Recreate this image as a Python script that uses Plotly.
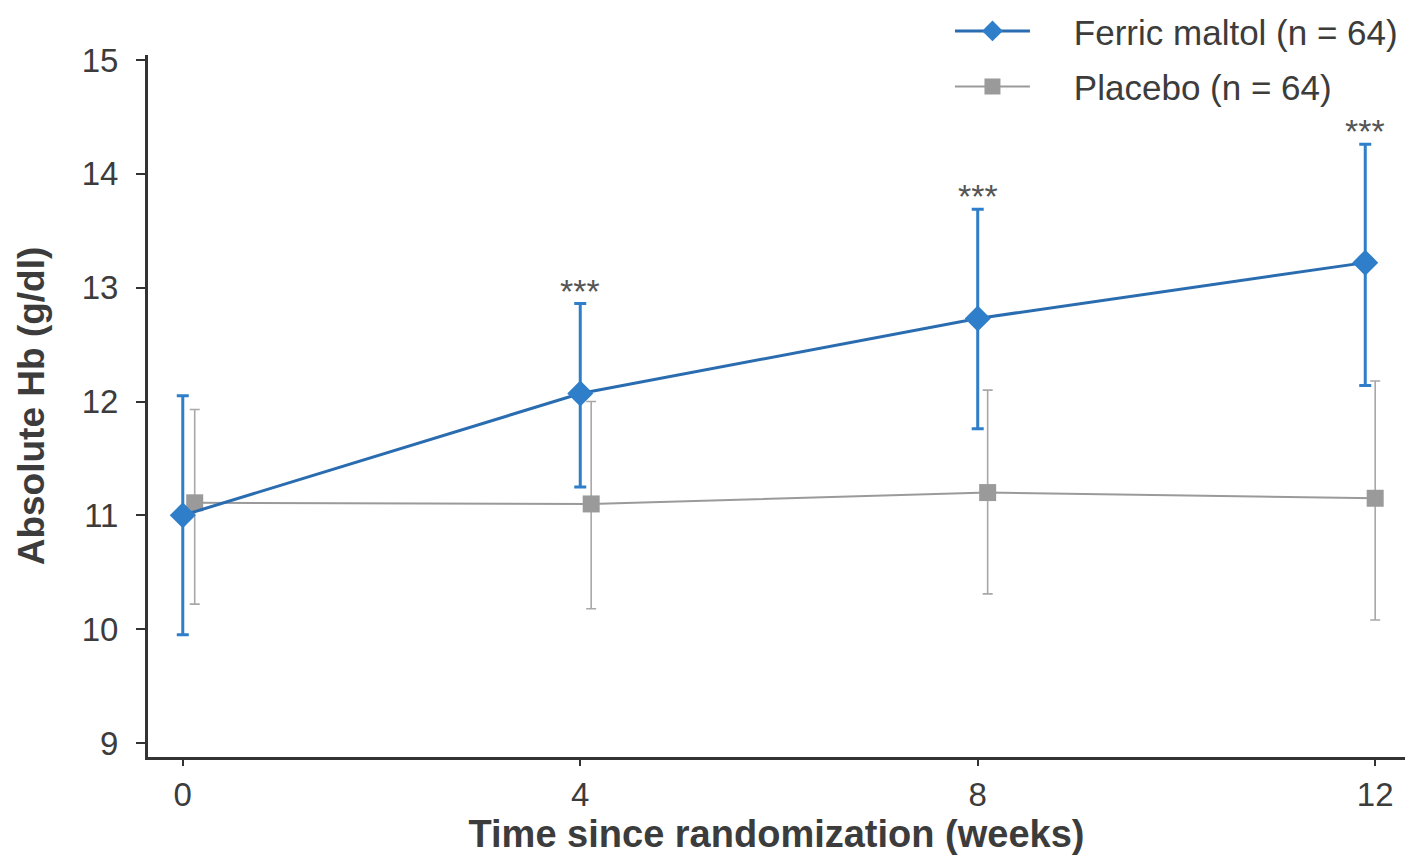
import plotly.graph_objects as go

# Visit schedule (weeks since randomization)
weeks = [0, 4, 8, 12]

# Ferric maltol: mean Hb with lower / upper bounds (g/dl)
ferric_mean = [11.0, 12.07, 12.73, 13.22]
ferric_low = [9.95, 11.25, 11.76, 12.14]
ferric_high = [12.05, 12.86, 13.69, 14.26]

# Placebo: mean Hb with lower / upper bounds (g/dl)
placebo_mean = [11.11, 11.1, 11.2, 11.15]
placebo_low = [10.22, 10.18, 10.31, 10.08]
placebo_high = [11.93, 12.0, 12.1, 12.18]

# Significance markers drawn above the ferric maltol bars
sig_labels = ["", "***", "***", "***"]

tick_vals_y = [9, 10, 11, 12, 13, 14, 15]
tick_vals_x = [0, 4, 8, 12]

# small horizontal dodge so the two series' bars do not overlap
ferric_dodge = [0.0, 0.0, 0.0, -0.1]
placebo_dodge = [0.12, 0.11, 0.1, 0.0]

BLUE = "#2f7ec9"
BLUE_LINE = "#2a6cb0"
GRAY = "#9a9a9a"
TEXT = "#3c3c3c"
FONT = "Liberation Sans"
PAD = "\u00a0" * 4  # gap between legend symbol and label

fx = [w + d for w, d in zip(weeks, ferric_dodge)]
px = [w + d for w, d in zip(weeks, placebo_dodge)]

fig = go.Figure()

fig.add_trace(go.Scatter(
    x=px, y=placebo_mean, name=PAD + "Placebo (n = 64)",
    mode="lines+markers",
    line=dict(color=GRAY, width=2),
    marker=dict(symbol="square", size=17, color=GRAY),
    error_y=dict(type="data", symmetric=False,
                 array=[h - m for h, m in zip(placebo_high, placebo_mean)],
                 arrayminus=[m - l for m, l in zip(placebo_mean, placebo_low)],
                 color="#a8a8a8", thickness=1.6, width=5),
    legendgroup="p", legendrank=2,
))

fig.add_trace(go.Scatter(
    x=fx, y=ferric_mean, name=PAD + "Ferric maltol (n = 64)",
    mode="lines+markers",
    line=dict(color=BLUE_LINE, width=3),
    marker=dict(symbol="diamond", size=20, color=BLUE),
    error_y=dict(type="data", symmetric=False,
                 array=[h - m for h, m in zip(ferric_high, ferric_mean)],
                 arrayminus=[m - l for m, l in zip(ferric_mean, ferric_low)],
                 color=BLUE, thickness=3, width=6),
    legendgroup="f", legendrank=1,
))

for x, hi, lab in zip(fx, ferric_high, sig_labels):
    if lab:
        fig.add_annotation(x=x, y=hi, text=lab, showarrow=False,
                           yanchor="bottom", yshift=-8,
                           font=dict(family=FONT, size=34, color="#555"))

fig.update_layout(
    width=1418, height=862,
    margin=dict(l=148, r=13, t=55, b=105, autoexpand=False),
    paper_bgcolor="white", plot_bgcolor="white",
    font=dict(family=FONT, color=TEXT),
    showlegend=True,
    legend=dict(x=0.638, xanchor="left", y=1.076, yanchor="top",
                font=dict(family=FONT, size=35, color=TEXT),
                tracegroupgap=7, bgcolor="rgba(0,0,0,0)", itemwidth=75),
    xaxis=dict(range=[-0.35, 12.3], tickvals=tick_vals_x,
               showgrid=False, zeroline=False,
               showline=True, linecolor="#333", linewidth=3,
               ticks="outside", ticklen=6, tickwidth=2, tickcolor="#333",
               ticklabelstandoff=0,
               tickfont=dict(family=FONT, size=33, color=TEXT),
               title=dict(text="<b>Time since randomization (weeks)</b>",
                          font=dict(family=FONT, size=38, color=TEXT),
                          standoff=4)),
    yaxis=dict(range=[8.877, 15.044], tickvals=tick_vals_y,
               showgrid=False, zeroline=False,
               showline=True, linecolor="#333", linewidth=3,
               ticks="outside", ticklen=9, tickwidth=2, tickcolor="#333",
               ticklabelstandoff=11,
               tickfont=dict(family=FONT, size=33, color=TEXT),
               title=dict(text="<b>Absolute Hb (g/dl)</b>",
                          font=dict(family=FONT, size=37, color=TEXT),
                          standoff=26)),
)

fig.write_html("out.html")
